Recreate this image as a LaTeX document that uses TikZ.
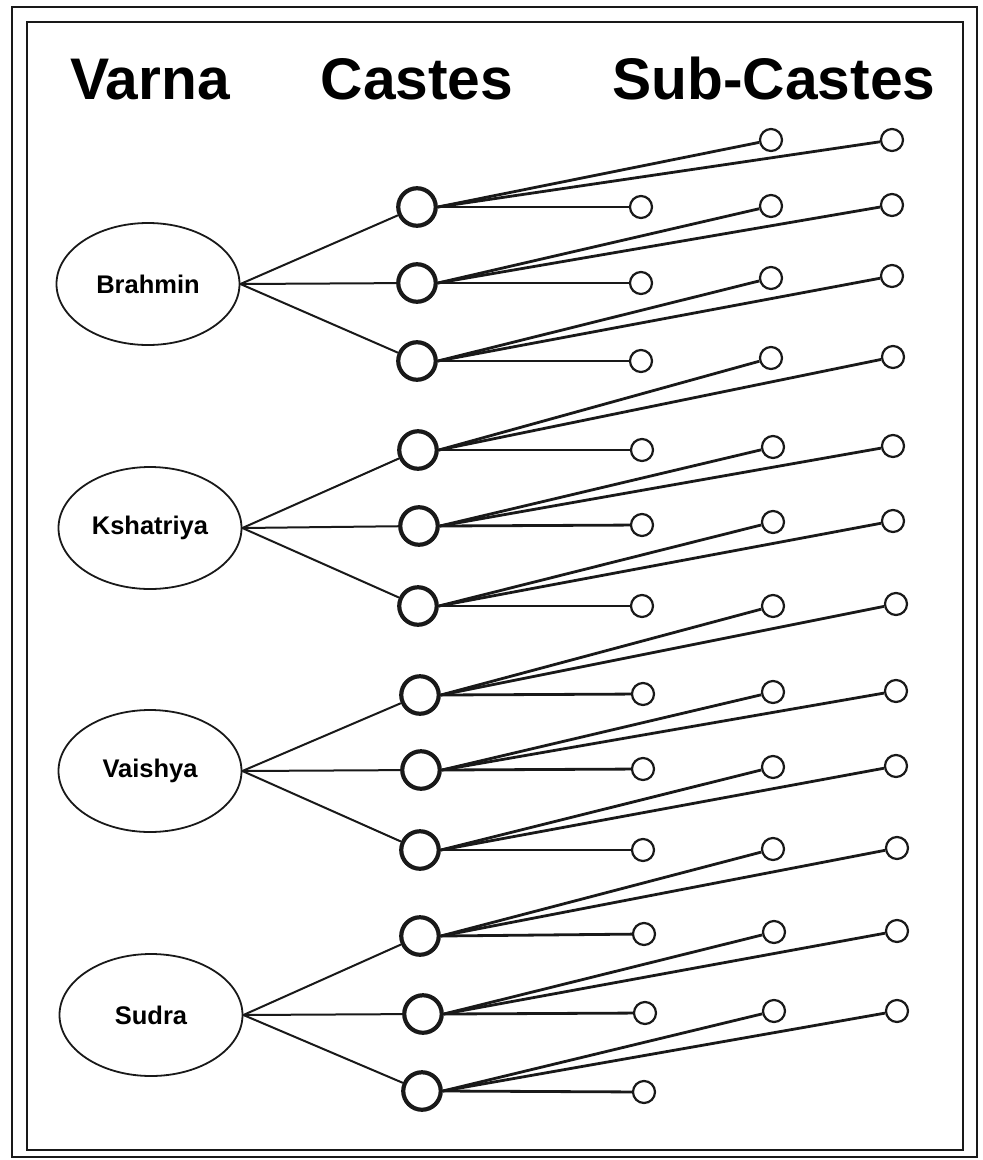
\documentclass[tikz,border=0pt]{standalone}
\usepackage{fontspec}
\setmainfont{Liberation Sans}
\usetikzlibrary{shapes.geometric}

\tikzset{
  ink/.style={draw=black!90},
  heading/.style={font=\fontsize{58.7}{60}\selectfont\bfseries, anchor=base, inner sep=0pt},
  varnabox/.style={ink, ellipse, line width=1.8pt, minimum width=183pt, minimum height=122pt,
                   inner sep=0pt, font=\fontsize{25.5}{27}\selectfont\bfseries},
  castebox/.style={ink, circle, line width=4.2pt, minimum size=37.5pt, inner sep=0pt},
  subbox/.style={ink, circle, line width=2.2pt, minimum size=22pt, inner sep=0pt},
  vlink/.style={draw=black!90, line width=2pt},
  slink/.style={draw=black!90, line width=2.8pt},
}

\begin{document}
\begin{tikzpicture}[x=1pt, y=-1pt]
  \useasboundingbox (0,0) rectangle (983,1160);

  % double frame
  \draw[ink, line width=1.3pt] (12,7) rectangle (977,1157);
  \draw[ink, line width=2.2pt] (27,22) rectangle (963,1150);

  % column headings
  \node[heading] (hvarna)  at (150,99) {Varna};
  \node[heading] (hcaste)  at (417,99) {Castes};
  \node[heading] (hsub)    at (774,99) {Sub-Castes};

  % varnas
  \node[varnabox] (brahmin)   at (148,284)  {Brahmin};
  \node[varnabox] (kshatriya) at (150,528)  {Kshatriya};
  \node[varnabox] (vaishya)   at (150,771)  {Vaishya};
  \node[varnabox] (sudra)     at (151,1015) {Sudra};

  % castes and their sub-castes
  \foreach \i/\v/\cx/\cy/\hx/\hy/\ax/\ay/\bx/\by in {
      1/brahmin/417/207/641/207/771/140/892/140,
      2/brahmin/417/283/641/283/771/206/892/205,
      3/brahmin/417/361/641/361/771/278/892/276,
      4/kshatriya/418/450/642/450/771/358/893/357,
      5/kshatriya/419/526/642/525/773/447/893/446,
      6/kshatriya/418/606/642/606/773/522/893/521,
      7/vaishya/420/695/643/694/773/606/896/604,
      8/vaishya/421/770/643/769/773/692/896/691,
      9/vaishya/420/850/643/850/773/767/896/766,
      10/sudra/420/936/644/934/773/849/897/848,
      11/sudra/423/1014/645/1013/774/932/897/931,
      12/sudra/422/1091/644/1092/774/1011/897/1011} {
    \node[castebox] (c\i) at (\cx,\cy) {};
    \node[subbox] (h\i) at (\hx,\hy) {};
    \node[subbox] (a\i) at (\ax,\ay) {};
    \node[subbox] (b\i) at (\bx,\by) {};
    \draw[vlink] (\v.east) -- (c\i);
    \draw[slink] (c\i.east) -- (h\i);
    \draw[slink] (c\i.east) -- (a\i);
    \draw[slink] (c\i.east) -- (b\i);
  }
\end{tikzpicture}
\end{document}
